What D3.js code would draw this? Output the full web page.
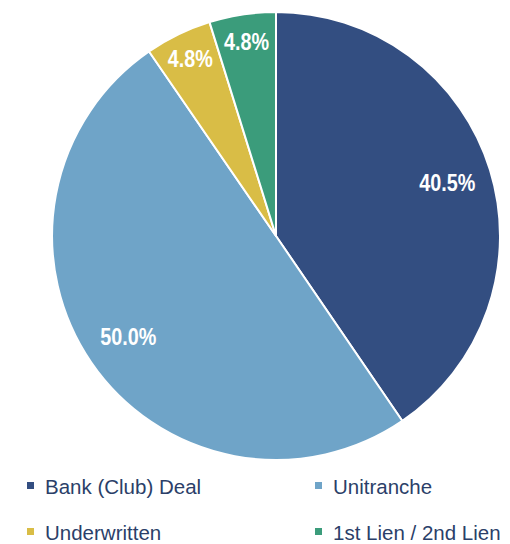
<!DOCTYPE html>
<html><head><meta charset="utf-8">
<script src="https://cdn.jsdelivr.net/npm/d3@7"></script>
<style>html,body{margin:0;padding:0;background:#fff;}svg{display:block;}</style>
</head><body>
<svg id="chart" width="510" height="544"></svg>
<script>
const categories = ["Bank (Club) Deal", "Unitranche", "Underwritten", "1st Lien / 2nd Lien"];
const values = [40.5, 50.0, 4.8, 4.8];
const labels = ["40.5%", "50.0%", "4.8%", "4.8%"];
const colors = ["#334e81", "#6fa4c8", "#d9bd46", "#3b9c7b"];

const svg = d3.select("#chart");
const cx = 276, cy = 236, R = 224;
const data = categories.map((c, i) => ({name: c, value: values[i], label: labels[i], color: colors[i]}));
const pie = d3.pie().value(d => d.value).sort(null);
const arcs = pie(data);
const arc = d3.arc().innerRadius(0).outerRadius(R);
const g = svg.append("g").attr("transform", `translate(${cx},${cy})`);
g.selectAll("path").data(arcs).join("path")
  .attr("d", arc).attr("fill", d => d.data.color)
  .attr("stroke", "#fff").attr("stroke-width", 2).attr("stroke-linejoin", "round");

const labelPos = d => {
  const k = d.data.value < 10 ? 0.875 : 0.8;
  return d3.arc().innerRadius(R * k).outerRadius(R * k).centroid(d);
};
g.selectAll("text").data(arcs).join("text")
  .attr("transform", d => { const p = labelPos(d); return `translate(${p[0]},${p[1]}) scale(0.86,1)`; })
  .attr("text-anchor", "middle").attr("dominant-baseline", "central")
  .attr("fill", "#fff").attr("font-family", "'Liberation Sans',Arial,sans-serif")
  .attr("font-weight", "bold").attr("font-size", 23)
  .text(d => d.data.label);

const legend = svg.append("g");
const lx = d3.scalePoint().domain([0, 1]).range([27, 315]);
const ly = d3.scalePoint().domain([0, 1]).range([486, 532]);
data.forEach((d, i) => {
  const col = i % 2, row = Math.floor(i / 2);
  const item = legend.append("g").attr("transform", `translate(${lx(col)},${ly(row)})`);
  item.append("rect").attr("x", 0).attr("y", -4).attr("width", 7).attr("height", 7).attr("fill", d.color);
  item.append("text").attr("x", 18).attr("y", 0).attr("dominant-baseline", "central")
    .attr("fill", "#2b3f69").attr("font-family", "'Liberation Sans',Arial,sans-serif")
    .attr("font-size", 20.5).text(d.name);
});
</script>
</body></html>
